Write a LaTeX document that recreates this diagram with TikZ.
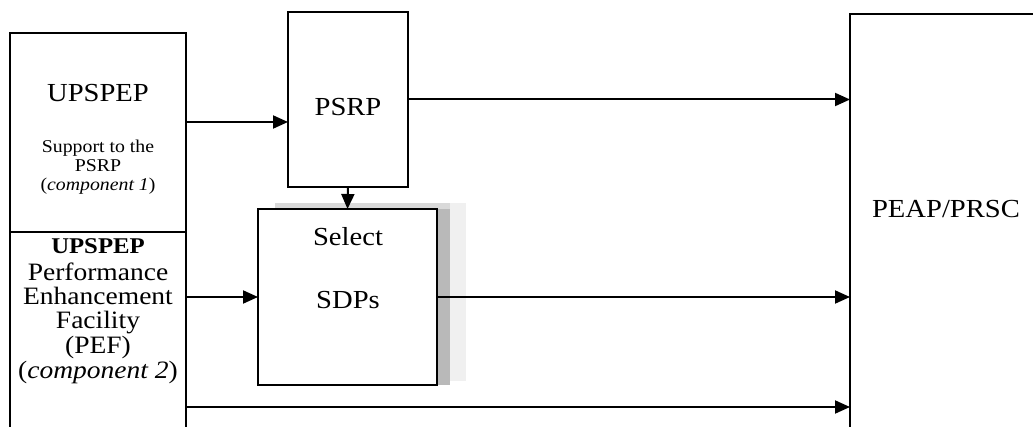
\documentclass[tikz,border=0pt]{standalone}
\usepackage{fontspec}
\setmainfont{Liberation Serif}[FakeStretch=1.1]
\usetikzlibrary{arrows.meta,calc}

\tikzset{
  box/.style={draw=black, line width=2pt, inner sep=0pt, outer sep=0pt},
  flow/.style={line width=2pt, -{Triangle[length=15pt,width=13pt]}},
  big/.style={font=\fontsize{26}{28}\selectfont, inner sep=0pt, anchor=base},
  mid/.style={font=\fontsize{25}{27}\selectfont, inner sep=0pt, anchor=base},
  midb/.style={font=\fontsize{22.5}{24}\selectfont\bfseries, inner sep=0pt, anchor=base},
  small/.style={font=\fontsize{18}{20}\selectfont, inner sep=0pt, anchor=base},
}

\begin{document}
\begin{tikzpicture}[x=1pt, y=-1pt]
  \clip (0,0) rectangle (1033,427);
  \fill[white] (0,0) rectangle (1033,427);

  % boxes
  \node[box, anchor=north west, minimum width=176pt, minimum height=199pt] (up1) at (10,33) {};
  \node[box, anchor=north west, minimum width=176pt, minimum height=220pt] (low) at (10,232) {};
  \node[box, anchor=north west, minimum width=120pt, minimum height=175pt] (psrp) at (288,12) {};

  % shadow behind the selection box
  \fill[gray!12] (450,203) rectangle (466,381);
  \fill[gray!55] (437,203) rectangle (450,385);
  \fill[gray!30] (275,203) rectangle (450,209);

  \node[box, fill=white, anchor=north west, minimum width=179pt, minimum height=176pt] (sel) at (258,209) {};
  \node[box, anchor=north west, minimum width=200pt, minimum height=430pt] (peap) at (850,14) {};

  % texts
  \node[big] (t1) at (98,102) {UPSPEP};
  \node[small] (t2) at (98,153) {Support to the};
  \node[small] (t3) at (98,172) {PSRP};
  \node[small] (t4) at (98,191) {(\textit{component 1})};

  \node[midb] (t5) at (98,254) {UPSPEP};
  \node[mid] (t6) at (98,281) {Performance};
  \node[mid] (t7) at (98,305) {Enhancement};
  \node[mid] (t8) at (98,329) {Facility};
  \node[mid] (t9) at (98,354) {(PEF)};
  \node[mid] (t10) at (98,378) {(\textit{component 2})};

  \node[big] (t11) at (348,116) {PSRP};
  \node[big] (t12) at (348,246) {Select};
  \node[big] (t13) at (348,309) {SDPs};
  \node[big] (t14) at (946,218) {PEAP/PRSC};

  % connector levels
  \coordinate (l1) at (0,122);
  \coordinate (l3) at (0,407);

  % connectors
  \draw[flow] (up1.east |- l1) -- (psrp.west |- l1);
  \draw[flow] (psrp.south) -- (sel.north);
  \draw[flow] (sel.west -| low.east) -- (sel.west);
  \draw[flow] (psrp.east) -- (psrp.east -| peap.west);
  \draw[flow] (sel.east) -- (sel.east -| peap.west);
  \draw[flow] (low.east |- l3) -- (peap.west |- l3);
\end{tikzpicture}
\end{document}
